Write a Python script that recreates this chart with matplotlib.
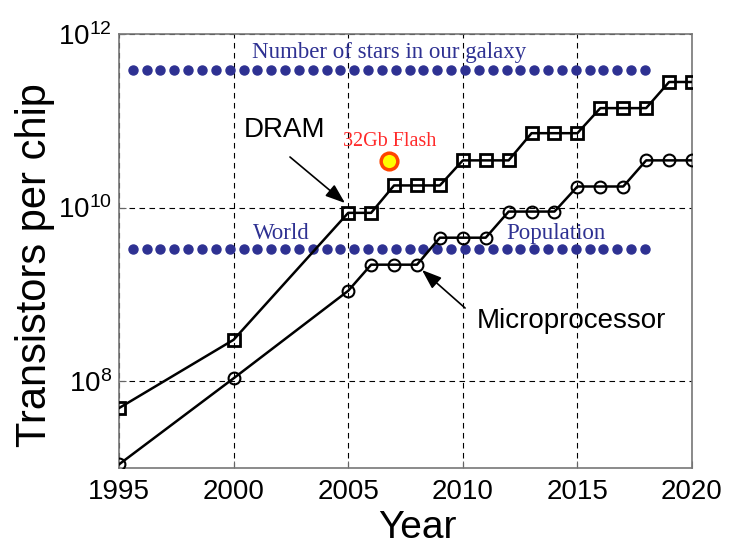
import math

import matplotlib
matplotlib.use('Agg')
import matplotlib.pyplot as plt
from matplotlib.ticker import FixedLocator, NullLocator, FuncFormatter

# DRAM transistors per chip (squares)
dram_years = [1995, 2000, 2005, 2006, 2007, 2008, 2009, 2010, 2011, 2012,
              2013, 2014, 2015, 2016, 2017, 2018, 2019, 2020]
dram_vals = [4.9e7, 3.0e8, 8.7e9, 8.7e9, 1.8e10, 1.8e10, 1.8e10, 3.5e10, 3.5e10, 3.5e10,
             7.2e10, 7.2e10, 7.2e10, 1.4e11, 1.4e11, 1.4e11, 2.8e11, 2.8e11]

# Microprocessor transistors per chip (circles)
mpu_years = [1995, 2000, 2005, 2006, 2007, 2008, 2009, 2010, 2011, 2012,
             2013, 2014, 2015, 2016, 2017, 2018, 2019, 2020]
mpu_vals = [1.1e7, 1.08e8, 1.1e9, 2.2e9, 2.2e9, 2.2e9, 4.5e9, 4.5e9, 4.5e9, 9.0e9,
            9.0e9, 9.0e9, 1.75e10, 1.75e10, 1.75e10, 3.5e10, 3.5e10, 3.5e10]

# reference levels drawn as dotted rows
ref_start, ref_end, ref_count = 1995.6, 2017.95, 38
stars_level = 3.8e11
population_level = 3.3e9

flash_year, flash_val = 2006.8, 3.4e10

ref_x = [ref_start + i * (ref_end - ref_start) / (ref_count - 1) for i in range(ref_count)]

sans = ['Liberation Sans Narrow', 'Liberation Sans', 'DejaVu Sans']
serif = ['Liberation Serif', 'DejaVu Serif']
plt.rcParams['font.family'] = ['Liberation Sans', 'DejaVu Sans']

fig = plt.figure(figsize=(7.33, 5.47), dpi=100)
ax = fig.add_axes([119 / 733, 79 / 547, 573 / 733, 434 / 547])

blue = '#2E3192'
ax.plot(ref_x, [stars_level] * ref_count, 'o', ms=6.5, color=blue, mec=blue)
ax.plot(ref_x, [population_level] * ref_count, 'o', ms=6.5, color=blue, mec=blue)

ax.plot(dram_years, dram_vals, '-s', color='black', lw=1.8, ms=8,
        mfc='none', mew=2, zorder=3)
ax.plot(mpu_years, mpu_vals, '-o', color='black', lw=1.8, ms=8.5,
        mfc='none', mew=1.5, zorder=3)
ax.plot([flash_year], [flash_val], 'o', ms=12, mfc='#FFFF00', mec='#FF4400',
        mew=2.5, zorder=4)

ax.set_yscale('log')
ax.set_xlim(1995, 2020)
ax.set_ylim(1e7, 1e12)
ax.xaxis.set_major_locator(FixedLocator([1995, 2000, 2005, 2010, 2015, 2020]))
ax.yaxis.set_major_locator(FixedLocator([1e8, 1e10, 1e12]))
ax.yaxis.set_minor_locator(NullLocator())
ax.yaxis.set_major_formatter(FuncFormatter(
    lambda v, p: r'$\mathregular{10^{%d}}$' % round(math.log10(v))))
ax.tick_params(direction='in', length=5, color='#666666', labelsize=20)
ax.tick_params(axis='x', pad=8)
ax.tick_params(axis='y', pad=5)
for lab in ax.get_xticklabels() + ax.get_yticklabels():
    lab.set_family(sans)
ax.grid(True, color='black', linestyle=(0, (5, 4)), lw=0.8)
for s in ax.spines.values():
    s.set_color('#777777')
    s.set_linewidth(1.2)

ax.set_xlabel('Year', fontsize=28, va='center')
ax.xaxis.set_label_coords(0.52, -0.138)
ax.set_ylabel('Transistors per chip', fontsize=30, va='center')
ax.yaxis.set_label_coords(-0.147, 0.468)

# Annotations
ax.text(2006.8, 10 ** 11.79, 'Number of stars in our galaxy', family=serif,
        fontsize=16.5, color=blue, ha='center', va='center')
ax.text(2002.1, 10 ** 9.70, 'World', family=serif, fontsize=16.5, color=blue,
        ha='center', va='center')
ax.text(2014.05, 10 ** 9.70, 'Population', family=serif, fontsize=16.5, color=blue,
        ha='center', va='center')
ax.text(2006.8, 10 ** 10.76, '32Gb Flash', family=serif, fontsize=14.5,
        color='#FF2A2A', ha='center', va='center')

ax.text(2002.2, 10 ** 10.89, 'DRAM', fontsize=20, ha='center', va='center')
ax.text(2014.75, 10 ** 8.69, 'Microprocessor', fontsize=20, ha='center', va='center')

arrow = dict(arrowstyle='-|>,head_length=0.6,head_width=0.22', color='black',
             lw=1.2, shrinkA=0, shrinkB=0, mutation_scale=20)
ax.annotate('', xy=(2004.86, 10 ** 10.053), xytext=(2002.46, 10 ** 10.583),
            arrowprops=arrow)
ax.annotate('', xy=(2008.22, 10 ** 9.281), xytext=(2010.10, 10 ** 8.843),
            arrowprops=arrow)

plt.savefig('out.png', dpi=100)
